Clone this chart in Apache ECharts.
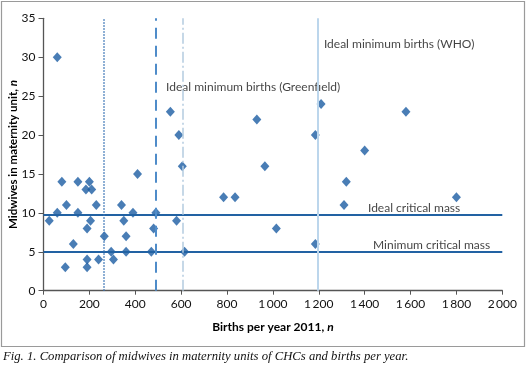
<!DOCTYPE html>
<html><head><meta charset="utf-8">
<script src="https://cdn.jsdelivr.net/npm/echarts@6/dist/echarts.min.js"></script>
<style>html,body{margin:0;padding:0;background:#fff}#c{width:527px;height:367px}</style>
</head><body><div id="c"></div>
<script>
var births   = [25, 60, 60, 80, 100, 95, 130, 150, 150, 185, 200, 210, 190, 205, 230, 190, 190, 240, 265, 295, 305, 340, 350, 360, 360, 390, 410, 470, 480, 490, 553, 580, 590, 605, 615, 785, 835, 930, 965, 1015, 1185, 1185, 1210, 1310, 1320, 1400, 1580, 1800];
var midwives = [9, 30, 10, 14, 11, 3, 6, 14, 10, 13, 14, 13, 8, 9, 11, 4, 3, 4, 7, 5, 4, 11, 9, 7, 5, 10, 15, 5, 8, 10, 23, 9, 20, 16, 5, 12, 12, 22, 16, 8, 20, 6, 24, 11, 14, 18, 23, 12];
var xTicks = [0, 200, 400, 600, 800, 1000, 1200, 1400, 1600, 1800, 2000];
var yTicks = [0, 5, 10, 15, 20, 25, 30, 35];
var hLineNames  = ['Ideal critical mass', 'Minimum critical mass'];
var hLineValues = [9.7, 5];
var vLineValues = [264, 489, 608, 1197];
var annTexts = ['Ideal minimum births (WHO)', 'Ideal minimum births (Greenfield)', 'Ideal critical mass', 'Minimum critical mass'];
var annX = [1218, 530, 1410, 1432];
var annY = [31.7, 26.2, 10.55, 5.9];

var pts = births.map(function(b, i){ return [b, midwives[i]]; });
var vStyles = [
  {color:'#3a73b5', type:[1.5,1.5], width:1.5},
  {color:'#4f8cc9', type:[11,7], width:2},
  {color:'#b4cbe0', type:[11,3,2,3], width:1.5},
  {color:'#bcd6ec', type:'solid', width:2}
];
var markData = [];
hLineValues.forEach(function(v){ markData.push({yAxis:v, lineStyle:{color:'#2262a3', width:2, type:'solid'}}); });
vLineValues.forEach(function(v, i){ markData.push({xAxis:v, lineStyle:vStyles[i]}); });

var fmt = function(v){ var s = String(v); return s.length > 3 ? s.slice(0, s.length-3) + '\u2009' + s.slice(-3) : s; };
var mkRich = function(fs){ return {b:{fontWeight:'bold', fontSize:fs, color:'#000', fontFamily:'Lato'}, i:{fontWeight:'bold', fontStyle:'italic', fontSize:fs, color:'#000', fontFamily:'Lato'}}; };
var chart = echarts.init(document.getElementById('c'));
chart.setOption({
  animation:false,
  backgroundColor:'#fff',
  textStyle:{fontFamily:'Lato'},
  grid:{left:43.5, right:24.7, top:18.3, bottom:76.3, containLabel:false, outerBoundsMode:'none'},
  xAxis:{type:'value', min:xTicks[0], max:xTicks[xTicks.length-1], interval:200,
    name:'{b|Births per year 2011, }{i|n}', nameLocation:'middle', nameGap:30, nameMoveOverlap:false,
    nameTextStyle:{rich:mkRich(12)},
    axisLine:{lineStyle:{color:'#555', width:1.3}}, axisTick:{length:4, lineStyle:{color:'#555'}},
    axisLabel:{fontSize:12, color:'#111', margin:7, formatter:fmt}, splitLine:{show:false}},
  yAxis:{type:'value', min:yTicks[0], max:yTicks[yTicks.length-1], interval:5,
    name:'{b|Midwives in maternity unit, }{i|n}', nameLocation:'middle', nameGap:24, nameMoveOverlap:false,
    nameTextStyle:{rich:mkRich(11.5)},
    axisLine:{show:true, lineStyle:{color:'#555', width:1.3}}, axisTick:{show:true, length:5, lineStyle:{color:'#555'}},
    axisLabel:{fontSize:12, color:'#111', margin:8}, splitLine:{show:false}},
  graphic:[
    {type:'rect', shape:{x:1.5, y:1.5, width:523, height:345}, style:{fill:'none', stroke:'#9a9a9a', lineWidth:1.2}, z:-1},
    {type:'text', left:3, top:350, style:{text:'Fig. 1. Comparison of midwives in maternity units of CHCs and births per year.', fontFamily:'Liberation Serif', fontStyle:'italic', fontSize:12.7, fill:'#111'}}
  ],
  series:[
    {type:'line', data:[], z:1, markLine:{silent:true, symbol:'none', label:{show:false}, data:markData}},
    {type:'scatter', z:3, data:pts, symbol:'diamond', symbolSize:[9,10], itemStyle:{color:'#1c5ca3'}},
    {type:'scatter', z:2, silent:true, symbolSize:0,
      data:annTexts.map(function(t,i){ return {value:[annX[i], annY[i]], name:t}; }),
      label:{show:true, position:'inside', align:'left', verticalAlign:'middle', formatter:'{b}', fontSize:12, color:'#111', fontFamily:'Lato', backgroundColor:'#fff', padding:[0,1]}}
  ]
});
</script></body></html>
